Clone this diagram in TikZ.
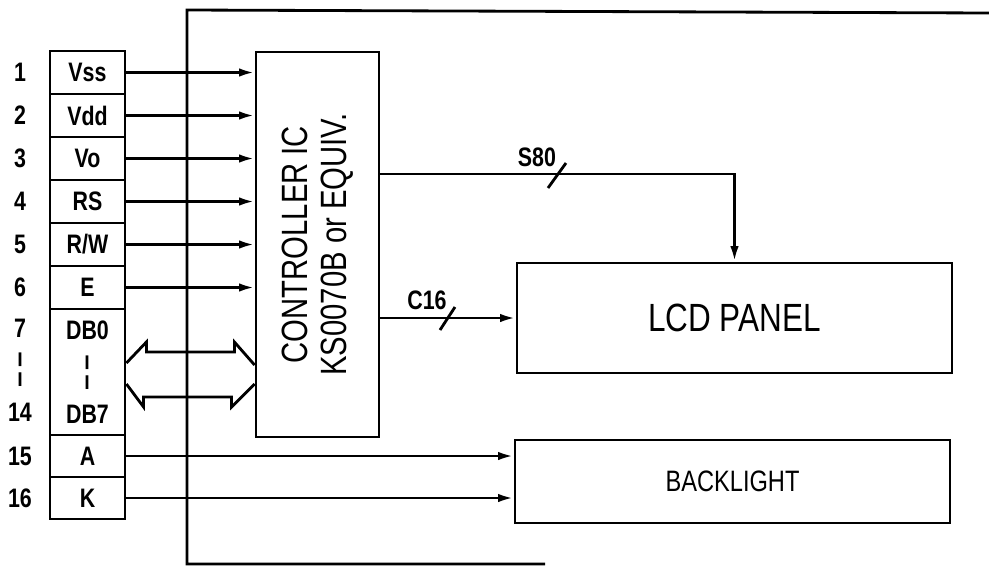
\documentclass[tikz,border=0pt]{standalone}
\usepackage{fontspec}
\setmainfont{Liberation Sans}[FakeStretch=0.8]
\usetikzlibrary{arrows.meta}

\newcommand{\brokenbar}{\scalebox{1}[1.35]{¦}}

\tikzset{
  sig/.style={line width=2pt},
  tip/.style={sig, -{Latex[length=11pt,width=6pt]}},
  pinbox/.style={draw, line width=2pt, minimum width=1.875cm, minimum height=1.075cm, inner sep=0pt, font=\bfseries\fontsize{19}{30}\selectfont},
  pinnum/.style={inner sep=0pt, font=\bfseries\fontsize{19}{20}\selectfont},
  block/.style={draw, line width=2pt, inner sep=0pt},
  lbl/.style={inner sep=0pt, font=\bfseries\fontsize{19}{20}\selectfont},
}

\begin{document}
\begin{tikzpicture}[x=0.025cm, y=-0.025cm]
  \useasboundingbox (0,0) rectangle (989,567);

  % outer frame (open on the right)
  \draw[sig] (989,13) -- (187,10) -- (187,564) -- (545,564);

  % pin table
  \node[pinbox] (vss) at (87.5,72.5) {Vss};
  \node[pinbox] (vdd) at (87.5,115.5) {Vdd};
  \node[pinbox] (vo) at (87.5,158.5) {Vo};
  \node[pinbox] (rs) at (87.5,201.5) {RS};
  \node[pinbox] (rw) at (87.5,244.5) {R/W};
  \node[pinbox] (en) at (87.5,287.5) {E};
  \node[pinbox, minimum height=3.15cm, align=center] (db) at (87.5,372) {DB0\\\brokenbar\\DB7};
  \node[pinbox, minimum height=1.05cm] (pa) at (87.5,456) {A};
  \node[pinbox, minimum height=1.05cm] (pk) at (87.5,498) {K};

  \foreach \n/\y in {1/72.5, 2/115.5, 3/158.5, 4/201.5, 5/244.5, 6/287.5, 7/328, 14/412, 15/456, 16/498}
    \node[pinnum] (num\n) at (20,\y) {\n};
  \node[pinnum] (numdots) at (20,370) {\brokenbar};

  % controller
  \node[block, minimum width=3.075cm, minimum height=9.625cm] (ctrl) at (317.5,244.5) {};
  \node[rotate=90, align=center, font=\fontsize{26}{28}\selectfont] (ctrltext) at (ctrl.center) {CONTROLLER IC\\KS0070B or EQUIV.};

  % panel and backlight
  \node[block, minimum width=10.875cm, minimum height=2.75cm, font=\fontsize{28}{30}\selectfont] (lcd) at (734.5,318) {LCD PANEL};
  \node[block, minimum width=10.875cm, minimum height=2.075cm, font=\fontsize{21}{24}\selectfont] (bl) at (732.5,481.5) {BACKLIGHT};

  \foreach \p in {vss,vdd,vo,rs,rw,en}
    \draw[tip] (\p.east) -- (\p.east -| ctrl.west);

  % data bus
  \draw[sig] (db.east |- 0,363) -- ++(20,-21) -- ++(0,10) -- ++(88,0) -- ++(0,-10) -- (ctrl.west |- 0,365);
  \draw[sig] (ctrl.west |- 0,384) -- ++(-23,23) -- ++(0,-10) -- ++(-88,0) -- ++(0,10) -- (db.east |- 0,384);

  % segment and common lines
  \coordinate (segout) at (ctrl.east |- 0,174);
  \draw[tip] (segout) -| (lcd.north);
  \draw[sig] (548,188) -- (566,163);
  \node[lbl] (seglbl) at (537,157) {S80};

  \draw[tip] (ctrl.east |- lcd.west) -- (lcd.west);
  \draw[sig] (440,330) -- (455,307);
  \node[lbl] (comlbl) at (427,300) {C16};

  \draw[tip] (pa.east) -- (pa.east -| bl.west);
  \draw[tip] (pk.east) -- (pk.east -| bl.west);
\end{tikzpicture}
\end{document}
